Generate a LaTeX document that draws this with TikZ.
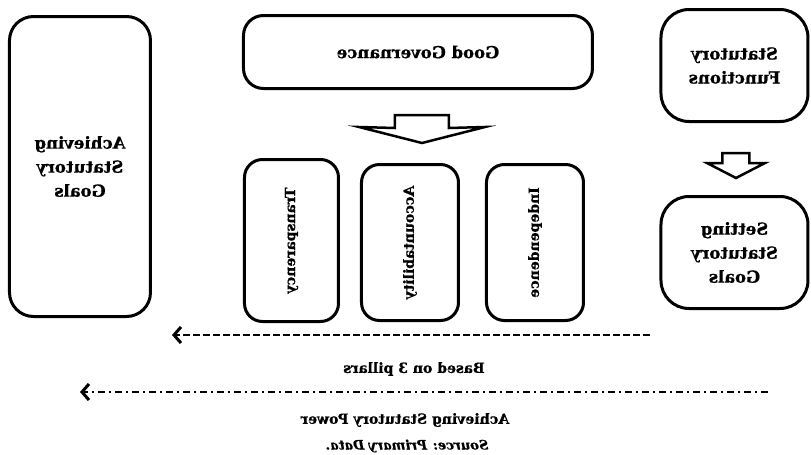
\documentclass[tikz,border=0pt]{standalone}
\usepackage{fontspec}
\setmainfont{DejaVu Serif}[BoldFeatures={FakeBold=0.8},BoldItalicFeatures={FakeBold=0.6}]
\usetikzlibrary{arrows.meta}
\begin{document}
\begin{tikzpicture}[xscale=-1, x=1pt, y=-1pt,
  every node/.append style={transform shape},
  rbox/.style={draw, line width=3pt, rounded corners=#1, inner sep=0pt, align=center,
    font=\bfseries\fontsize{16.5}{24}\selectfont},
  rbox/.default=20pt,
  pillar/.style={rbox=18pt, font=\bfseries\fontsize{14}{16}\selectfont},
  blockarrow/.style={draw, line width=2.5pt, miter limit=20},
  dashline/.style={line width=2pt, dash pattern=on 7pt off 3pt,
    -{Straight Barb[length=7pt,width=16pt,line width=3pt]}},
  dashdotline/.style={line width=2.5pt, dash pattern=on 7pt off 4pt on 2pt off 4pt,
    -{Straight Barb[length=7pt,width=16pt,line width=3pt]}},
  caption/.style={inner sep=0pt, font=\bfseries\fontsize{14}{16}\selectfont}
]
\useasboundingbox (0,0) rectangle (811,455);

% main boxes
\node[rbox=24pt, minimum width=141pt, minimum height=300pt] (ach) at (731,166.5)
  {Achieving\\Statutory\\Goals};
\node[rbox, minimum width=349pt, minimum height=73pt] (gg) at (393,52) {Good Governance};
\node[rbox=28pt, minimum width=147pt, minimum height=112pt] (sf) at (76.5,65.5)
  {Statutory\\Functions};
\node[rbox=28pt, minimum width=147pt, minimum height=112pt] (sg) at (76.5,252.5)
  {Setting\\Statutory\\Goals};

% pillars
\node[pillar, minimum width=94pt, minimum height=162pt] (tr) at (519.5,240.5)
  {\rotatebox{-90}{Transparency}};
\node[pillar, minimum width=97pt, minimum height=156pt] (ac) at (401,242.5)
  {\rotatebox{-90}{Accountability}};
\node[pillar, minimum width=97pt, minimum height=156pt] (in) at (276,242.5)
  {\rotatebox{-90}{Independence}};

% block arrows
\draw[blockarrow] (362,115) -- (416,115) -- (416,128) -- (452,127) -- (389,143)
  -- (326,127) -- (362,128) -- cycle;
\draw[blockarrow] (61.5,153) -- (88.5,153) -- (88.5,163) -- (104,163) -- (75,178)
  -- (46,163) -- (61.5,163) -- cycle;

% dashed arrows
\coordinate (d1s) at (161,335);
\coordinate (d1e) at (639,335);
\coordinate (d2s) at (43,392);
\coordinate (d2e) at (731,392);
\draw[dashline] (d1s) -- (d1e);
\draw[dashdotline] (d2s) -- (d2e);

% captions
\node[caption] (based) at (397,369) {Based on 3 pillars};
\node[caption] (power) at (406,420) {Achieving Statutory Power};
\node[caption, font=\bfseries\itshape\fontsize{13}{16}\selectfont] (src) at (404,446)
  {Source: Primary Data.};
\end{tikzpicture}
\end{document}
